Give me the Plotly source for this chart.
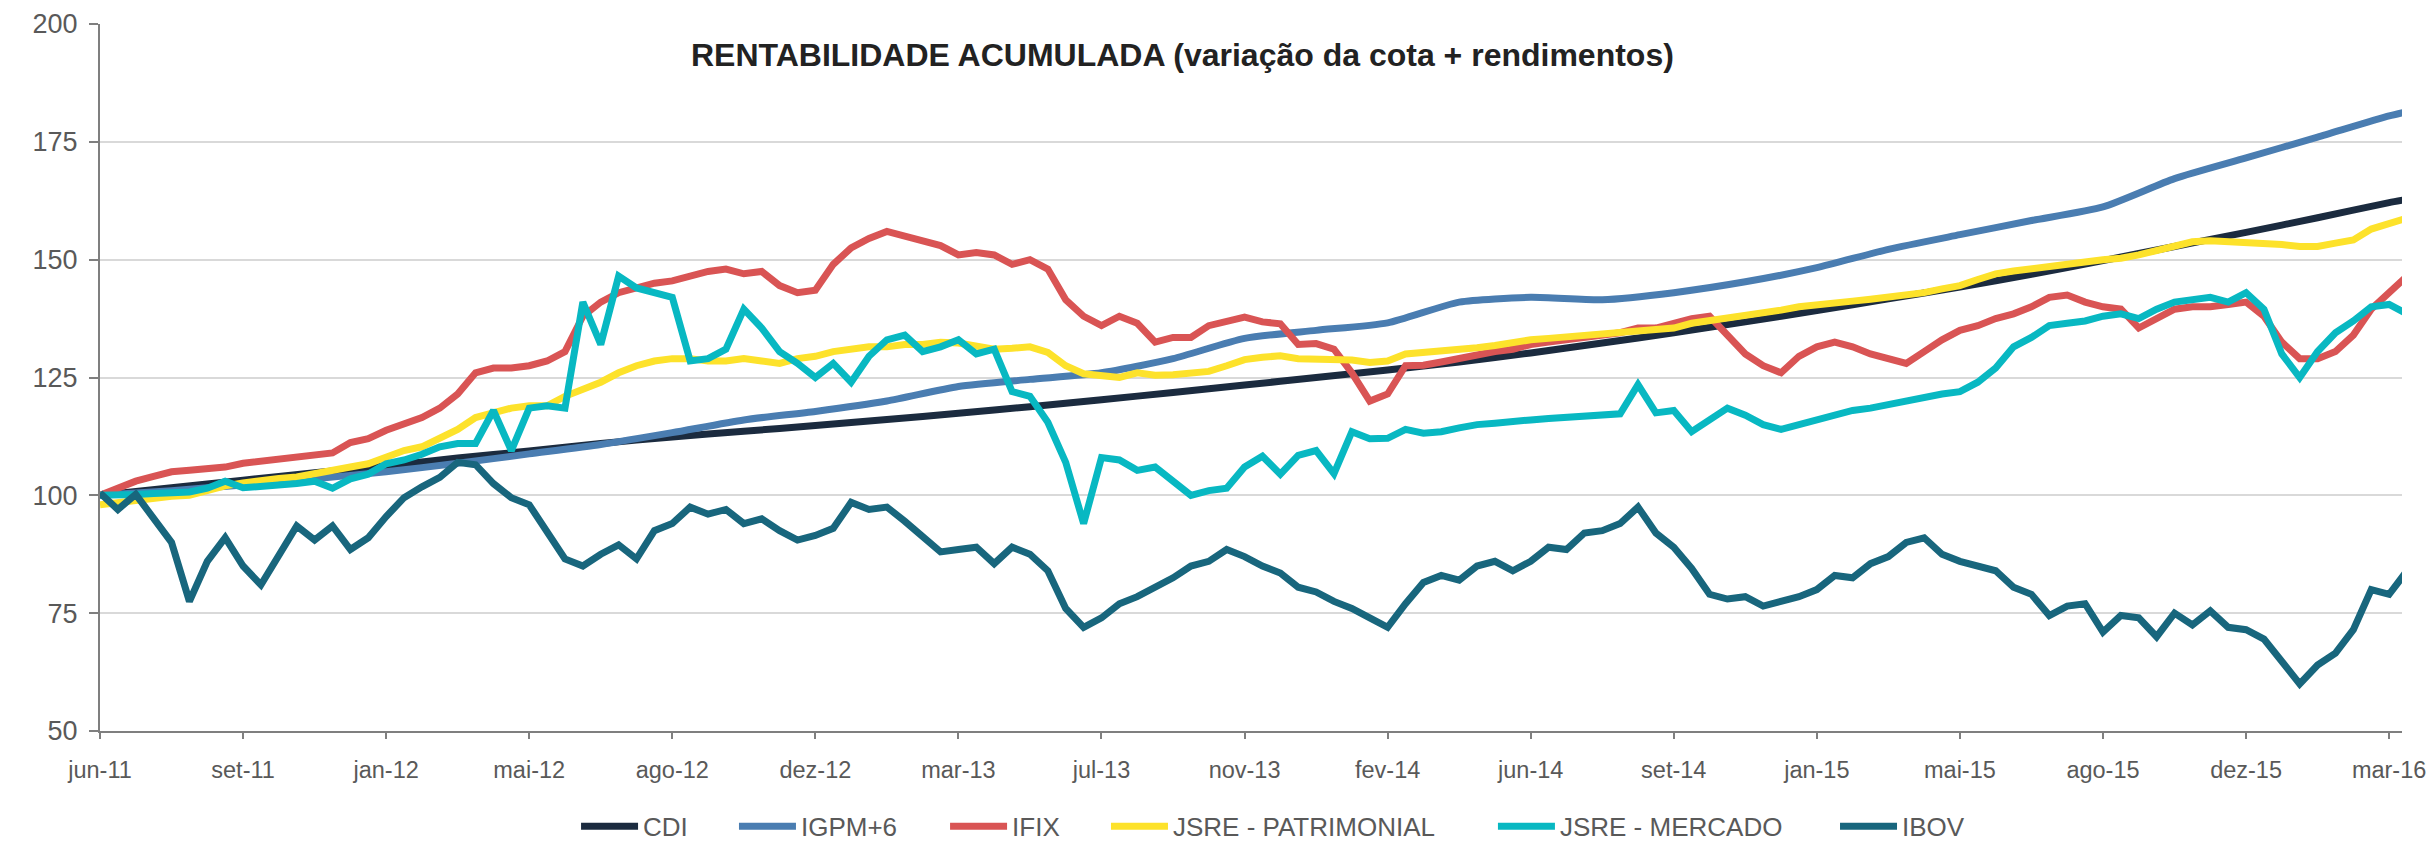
import plotly.graph_objects as go

FONT = "Arial, Liberation Sans, sans-serif"

tick_labels = ["jun-11", "set-11", "jan-12", "mai-12", "ago-12", "dez-12", "mar-13",
               "jul-13", "nov-13", "fev-14", "jun-14", "set-14", "jan-15", "mai-15",
               "ago-15", "dez-15", "mar-16"]

# x position in units of label intervals (8 samples per interval for daily-like series)
periodo_fino = [i / 8 for i in range(130)]
# smooth series sampled every half interval
periodo_meio = [i / 2 for i in range(33)] + [16.125]

cdi = [100.0, 101.6, 103.2, 104.8, 106.3, 107.9, 109.4, 111.0, 112.4, 113.6, 114.8, 116.1,
       117.4, 118.8, 120.3, 121.8, 123.4, 125.0, 126.6, 128.3, 130.2, 132.3, 134.5, 136.8,
       139.2, 141.7, 144.2, 146.9, 149.8, 152.8, 155.8, 158.9, 162.1, 162.8]

igpm6 = [100.0, 101.0, 102.2, 103.5, 105.0, 106.8, 108.8, 110.8, 113.3, 116.0, 117.8, 120.0,
         123.1, 124.6, 126.0, 129.0, 133.3, 135.0, 136.6, 141.0, 142.0, 141.5, 143.0, 145.3,
         148.3, 152.2, 155.3, 158.3, 161.2, 167.2, 171.6, 176.0, 180.5, 181.4]

ifix = [100.0, 101.5, 103.0, 104.0, 105.0, 105.3, 105.6, 106.0, 106.8, 107.3, 107.8, 108.2,
        108.5, 109.0, 111.2, 112.0, 113.8,
        115.0, 116.5, 118.5, 121.5, 126.0, 127.0, 127.0, 127.5, 128.5, 130.5, 138.0, 141.0,
        143.0, 144.0, 145.0, 145.5, 146.5, 147.5, 148.0, 147.0, 147.5, 144.5, 143.0, 143.5,
        149.0, 152.5, 154.5, 156.0, 155.0, 154.0, 153.0,
        151.0, 151.5, 151.0, 149.0, 150.0, 148.0, 141.5, 138.0, 136.0, 138.0, 136.5, 132.5,
        133.5, 133.5, 136.0, 137.0, 137.8, 136.8, 136.4, 132.0, 132.2, 131.0, 126.0, 120.0,
        121.5, 127.5, 127.6, 128.3, 129.0,
        130.0, 130.5, 131.0, 132.0, 132.5, 133.0, 133.5, 134.0, 134.5, 135.5, 135.5, 136.5,
        137.5, 138.0, 134.0, 130.0, 127.5, 126.0, 129.5, 131.5, 132.5, 131.5, 130.0, 129.0,
        128.0, 130.5, 133.0, 135.0, 136.0, 137.5, 138.5, 140.0, 142.0, 142.5, 141.0, 140.0,
        139.5, 135.5, 137.5, 139.5, 140.0, 140.0, 140.5, 141.0, 138.0, 132.5, 129.0, 129.0,
        130.5, 134.0, 139.5, 143.0, 146.5]

jsre_patrimonial = [98.0, 98.5, 99.0, 99.5, 99.8, 100.0, 101.0, 102.0, 102.6, 103.2, 103.6,
                    103.9, 104.5, 105.3, 106.0, 106.7, 108.3, 109.5, 110.3, 112.2, 114.0,
                    116.5, 117.5, 118.5, 119.0, 119.0, 121.0, 122.5, 124.0, 126.0, 127.5,
                    128.5, 129.0, 129.0, 128.5, 128.5, 129.0, 128.5, 128.0, 129.0, 129.5,
                    130.5, 131.0, 131.5, 131.5, 132.0, 132.0, 132.5,
                    132.3, 131.5, 131.0, 131.2, 131.5, 130.3, 127.5, 125.8, 125.3, 125.0,
                    126.0, 125.5, 125.6, 126.0, 126.3, 127.5, 128.8, 129.3, 129.6, 129.0,
                    129.0, 129.0, 128.7, 128.2, 128.5, 130.0, 130.3, 130.5, 131.0,
                    131.3, 131.8, 132.5, 133.0, 133.3, 133.6, 134.0, 134.3, 134.5, 134.8,
                    135.0, 135.5, 136.5, 137.0, 137.5, 138.0, 138.8, 139.3, 140.0, 140.5,
                    140.8, 141.2, 141.6, 142.0, 142.5, 143.0, 143.8, 144.5, 145.8, 147.0,
                    147.6, 148.0, 148.5, 149.0, 149.5, 150.0, 150.3, 151.0, 152.0, 153.0,
                    153.8, 154.0, 153.8, 153.8, 153.5, 153.2, 152.8, 152.8, 153.5, 154.2,
                    156.5, 157.5, 158.8]

jsre_mercado = [100.0, 100.0, 100.2, 100.4, 100.5, 100.7, 101.5, 103.0, 101.6, 101.8, 102.2,
                102.5, 103.0, 101.5, 103.5, 104.5, 106.7, 107.5, 108.7, 110.3, 111.0, 111.0,
                118.0, 109.5,
                118.5, 119.0, 118.5, 141.0, 132.0, 146.5, 144.0, 143.0, 142.0, 128.5, 129.0,
                131.0, 139.5, 135.5, 130.5, 128.0, 125.0, 128.0, 124.0, 129.5, 133.0, 134.0,
                130.5, 131.5,
                133.0, 130.0, 131.0, 122.0, 121.0, 115.5, 107.0, 94.0, 108.0, 107.5, 105.3,
                106.0, 103.0, 100.0, 101.0, 101.5, 106.0, 108.3, 104.5, 108.5, 109.5, 104.6,
                113.5, 112.0, 112.1, 114.0, 113.2, 113.5, 114.3,
                115.0, 115.3, 115.8, 116.0, 116.3, 116.5, 116.8, 117.0, 117.3, 123.5, 117.5,
                118.0, 113.5, 116.0, 118.5, 117.0, 115.0, 114.0, 115.0, 116.0, 117.0, 118.0,
                118.5, 119.3, 120.0, 121.0, 121.5, 122.0, 124.0, 127.0, 131.5, 133.5, 136.0,
                136.5, 137.0, 138.0, 138.5, 137.5, 139.5, 141.0, 141.5, 142.0, 141.0, 143.0,
                139.5, 130.0, 125.0, 130.5, 134.5, 137.0, 140.0, 140.5, 138.5]

ibov = [100.5, 97.0, 100.2, 95.0, 90.0, 77.5, 86.0, 91.0, 85.0, 81.0,
        87.0, 93.5, 90.5, 93.5, 88.5, 91.0, 95.5, 99.5, 101.8, 103.8,
        107.0, 106.5, 102.5, 99.5, 98.0, 92.0, 86.5, 85.0, 87.5,
        89.5, 86.5, 92.5, 94.0, 97.5, 96.0, 97.0, 94.0, 95.0, 92.5, 90.5, 91.5, 93.0, 98.5,
        97.0, 97.5, 94.5, 91.0, 88.0, 88.5,
        89.0, 85.5, 89.0, 87.5, 84.0, 76.0, 72.0, 74.0, 77.0, 78.5, 80.5, 82.5, 85.0, 86.0,
        88.5, 87.0, 85.0, 83.5, 80.5, 79.5, 77.5, 76.0, 74.0, 72.0,
        77.0, 81.5, 83.0, 82.0, 85.0, 86.0, 84.0, 86.0, 89.0, 88.5, 92.0, 92.5, 94.0, 97.5,
        92.0, 89.0, 84.5, 79.0, 78.0, 78.5, 76.5, 77.5, 78.5, 80.0,
        83.0, 82.5, 85.5, 87.0, 90.0, 91.0, 87.5, 86.0, 85.0, 84.0, 80.5, 79.0, 74.5, 76.5,
        77.0, 71.0, 74.5, 74.0, 70.0, 75.0, 72.5, 75.5, 72.0, 71.5, 69.5, 65.0, 60.0, 64.0,
        66.5, 71.5, 80.0, 79.0, 84.0]

series = [
    ("CDI", periodo_meio, cdi, "#1B2B3F", "spline", "legend"),
    ("IGPM+6", periodo_meio, igpm6, "#4A7DB1", "spline", "legend2"),
    ("IFIX", periodo_fino, ifix, "#D95454", "linear", "legend3"),
    ("JSRE - PATRIMONIAL", periodo_fino, jsre_patrimonial, "#FDE22B", "linear", "legend4"),
    ("JSRE - MERCADO", periodo_fino, jsre_mercado, "#08B8C2", "linear", "legend5"),
    ("IBOV", periodo_fino, ibov, "#18667D", "linear", "legend6"),
]

fig = go.Figure()
for name, xs, ys, color, shape, leg in series:
    fig.add_trace(go.Scatter(
        x=xs, y=ys, name=name, mode="lines", legend=leg, showlegend=True,
        line=dict(color=color, width=7, shape=shape, smoothing=0.6 if shape == "spline" else None),
    ))

# the page body adds an 8px offset, so the figure is drawn 8px smaller on each side
W, H = 2427, 836

legend_x = {"legend": 0.2068, "legend2": 0.2754, "legend3": 0.3671,
            "legend4": 0.4370, "legend5": 0.6051, "legend6": 0.7537}
legends = {}
for key, xv in legend_x.items():
    legends[key] = dict(
        orientation="h", x=xv, xanchor="left", y=-0.135, yanchor="middle",
        font=dict(family=FONT, size=26, color="#595959"),
        bgcolor="rgba(0,0,0,0)", itemwidth=57, borderwidth=0, visible=True,
    )

fig.update_layout(
    width=W, height=H,
    showlegend=True,
    margin=dict(l=92, r=33, t=15.5, b=112.5, autoexpand=False),
    paper_bgcolor="white", plot_bgcolor="white",
    font=dict(family=FONT, color="#595959"),
    title=dict(
        text="RENTABILIDADE ACUMULADA (variação da cota + rendimentos)",
        font=dict(family=FONT, size=32, color="#222222", weight="bold"),
        x=0.4702, xref="paper", xanchor="center",
        y=1 - 47 / H, yref="container", yanchor="middle",
    ),
    xaxis=dict(
        range=[0, 16.09], tickmode="array", tickvals=list(range(17)), ticktext=tick_labels,
        showgrid=False, zeroline=False, showline=True, linecolor="#7F7F7F", linewidth=2,
        ticks="outside", ticklen=6, tickwidth=2, tickcolor="#7F7F7F",
        tickfont=dict(family=FONT, size=23.5, color="#595959"), ticklabelstandoff=11,
    ),
    yaxis=dict(
        range=[50, 200], tickvals=[50, 75, 100, 125, 150, 175, 200],
        showgrid=True, gridcolor="#D9D9D9", gridwidth=1.5, zeroline=False,
        showline=True, linecolor="#7F7F7F", linewidth=2,
        ticks="outside", ticklen=9, tickwidth=2, tickcolor="#7F7F7F",
        tickfont=dict(family=FONT, size=27, color="#595959"), ticklabelstandoff=6,
    ),
    **legends,
)

fig.write_html("out.html")
